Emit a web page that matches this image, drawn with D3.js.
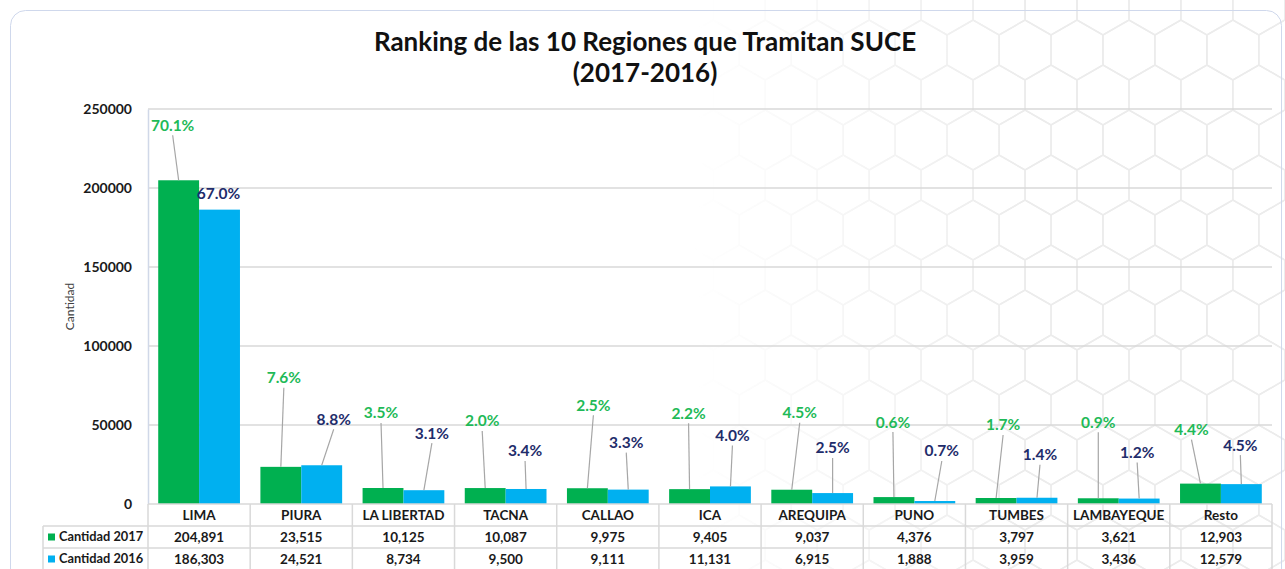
<!DOCTYPE html>
<html>
<head>
<meta charset="utf-8">
<script src="https://cdn.jsdelivr.net/npm/d3@7"></script>
<style>
  body { margin: 0; background: #fff; }
  svg { display: block; font-family: Lato, "Open Sans", sans-serif; }
</style>
</head>
<body>
<div id="chart"></div>
<script>
// Data
const regions = ['LIMA', 'PIURA', 'LA LIBERTAD', 'TACNA', 'CALLAO', 'ICA', 'AREQUIPA', 'PUNO', 'TUMBES', 'LAMBAYEQUE', 'Resto'];
const cantidad2017 = [204891, 23515, 10125, 10087, 9975, 9405, 9037, 4376, 3797, 3621, 12903];
const cantidad2016 = [186303, 24521, 8734, 9500, 9111, 11131, 6915, 1888, 3959, 3436, 12579];
const pct2017 = [70.1, 7.6, 3.5, 2.0, 2.5, 2.2, 4.5, 0.6, 1.7, 0.9, 4.4];
const pct2016 = [67.0, 8.8, 3.1, 3.4, 3.3, 4.0, 2.5, 0.7, 1.4, 1.2, 4.5];
const yTicks = [0, 50000, 100000, 150000, 200000, 250000];
const seriesNames = ['Cantidad 2017', 'Cantidad 2016'];

// Label placement (px offsets from bar top centre), like manual Excel labels
const offsets2017 = [[-6, -55], [3, -89], [-2, -75], [-3, -67], [6, -83], [-1, -76], [8, -77], [-1, -75], [7, -73], [0, -76], [-9, -54]];
const offsets2016 = [[-1, -16], [12, -46], [8, -57], [-1, -38], [-2, -47], [2, -51], [0, -45], [7, -50], [3, -43], [-2, -46], [-1, -39]];

const width = 1285, height = 569;
const plot = { left: 148, right: 1272, top: 109, bottom: 504 };
const rowH = 22;
const colors = { g: '#00b050', b: '#00b0f0', gText: '#1fba58', bText: '#1f2d6b', grid: '#d9d9d9' };

const svg = d3.select('#chart').append('svg')
  .attr('width', width)
  .attr('height', height);

// Hexagon backdrop, fading to the left
const defs = svg.append('defs');
const grad = defs.append('linearGradient').attr('id', 'fade').attr('x1', 0).attr('x2', 1).attr('y1', 0).attr('y2', 0);
grad.append('stop').attr('offset', '0.54').attr('stop-color', '#000');
grad.append('stop').attr('offset', '0.8').attr('stop-color', '#fff');
defs.append('mask').attr('id', 'hexMask')
  .append('rect').attr('width', width).attr('height', height).attr('fill', 'url(#fade)');

const r = 30, hw = r * Math.sqrt(3);
const hexPath = d3.range(6).map(i => {
  const a = Math.PI / 3 * i + Math.PI / 6;
  return [r * Math.cos(a), r * Math.sin(a)];
});
const hexes = [];
for (let row = -1; row * 1.5 * r < height + r; row++) {
  for (let col = -1; col * hw < width + hw; col++) {
    hexes.push([1077 + (col - 20) * hw + (row % 2 ? hw / 2 : 0), 50 + row * 1.5 * r]);
  }
}
svg.append('g').attr('mask', 'url(#hexMask)')
  .selectAll('path').data(hexes).join('path')
  .attr('d', d => 'M' + hexPath.map(p => [p[0] + d[0], p[1] + d[1]].join(',')).join('L') + 'Z')
  .attr('fill', 'none')
  .attr('stroke', '#ececec')
  .attr('stroke-width', 1.5);

// Card outline
svg.append('rect')
  .attr('x', 10.5).attr('y', 10.5)
  .attr('width', 1271).attr('height', 600)
  .attr('rx', 15)
  .attr('fill', 'none')
  .attr('stroke', '#cfd8ec')
  .attr('stroke-width', 1);

// Title
const title = svg.append('text')
  .attr('text-anchor', 'middle')
  .attr('font-weight', 'bold')
  .attr('font-size', 26)
  .attr('fill', '#111');
title.append('tspan').attr('x', 645).attr('y', 51).text('Ranking de las 10 Regiones que Tramitan SUCE');
title.append('tspan').attr('x', 645).attr('y', 82).text('(2017-2016)');

// Scales
const x = d3.scaleBand()
  .domain(regions)
  .range([plot.left, plot.right])
  .paddingInner(0.2)
  .paddingOuter(0.1);
const step = x.step();
const bw = x.bandwidth() / 2;

const y = d3.scaleLinear()
  .domain([0, 250000])
  .range([plot.bottom, plot.top]);

// Grid
svg.append('g')
  .selectAll('line').data(yTicks.slice(1)).join('line')
  .attr('x1', plot.left).attr('x2', plot.right)
  .attr('y1', d => y(d)).attr('y2', d => y(d))
  .attr('stroke', colors.grid)
  .attr('stroke-width', 1.5);

// Y axis
const yAxis = svg.append('g')
  .attr('transform', `translate(${plot.left},0)`)
  .call(d3.axisLeft(y).tickValues(yTicks).tickSize(0).tickPadding(16).tickFormat(d3.format('d')));
yAxis.select('.domain').attr('stroke', '#d0d8e8').attr('stroke-width', 1.5);
yAxis.selectAll('text')
  .attr('font-size', 14)
  .attr('font-weight', 'bold')
  .attr('fill', '#1a1a1a')
  .attr('font-family', 'Lato, sans-serif');

svg.append('text')
  .attr('transform', `translate(74,${(plot.top + plot.bottom) / 2}) rotate(-90)`)
  .attr('text-anchor', 'middle')
  .attr('font-size', 12)
  .attr('fill', '#404040')
  .text('Cantidad');

// Bars
const series = [
  { values: cantidad2017, pct: pct2017, offs: offsets2017, dx: 0, fill: colors.g, text: colors.gText },
  { values: cantidad2016, pct: pct2016, offs: offsets2016, dx: bw, fill: colors.b, text: colors.bText }
];

series.forEach(s => {
  const g = svg.append('g');
  g.selectAll('rect').data(regions).join('rect')
    .attr('x', d => x(d) + s.dx)
    .attr('y', (d, i) => y(s.values[i]))
    .attr('width', bw)
    .attr('height', (d, i) => y(0) - y(s.values[i]))
    .attr('fill', s.fill);
});

// Labels drawn after all bars so they sit on top
series.forEach(s => {
  const lbl = svg.append('g');
  regions.forEach((d, i) => {
    const cx = x(d) + s.dx + bw / 2;
    const top = y(s.values[i]);
    const lx = cx + s.offs[i][0];
    const ly = top + s.offs[i][1];
    if (s.offs[i][1] < -25) {
      lbl.append('line')
        .attr('x1', lx).attr('y1', ly + 10)
        .attr('x2', cx).attr('y2', top)
        .attr('stroke', '#a6a6a6')
        .attr('stroke-width', 1.2);
    }
    lbl.append('text')
      .attr('x', lx).attr('y', ly)
      .attr('dy', '0.35em')
      .attr('text-anchor', 'middle')
      .attr('font-size', 15.5)
      .attr('font-weight', 'bold')
      .attr('fill', s.text)
      .text(s.pct[i].toFixed(1) + '%');
  });
});

// Data table
const table = svg.append('g')
  .attr('stroke', colors.grid)
  .attr('stroke-width', 1.5);
const tableBottom = plot.bottom + rowH * 3 + 4;
const colEdges = regions.map(d => x(d) - step * 0.1).concat([plot.right]);
table.selectAll('line.v').data(colEdges).join('line')
  .attr('x1', d => d).attr('x2', d => d)
  .attr('y1', plot.bottom).attr('y2', tableBottom);
table.append('line')
  .attr('x1', 43).attr('x2', 43)
  .attr('y1', plot.bottom + rowH).attr('y2', tableBottom);
[1, 2].forEach(k => {
  table.append('line')
    .attr('x1', 43).attr('x2', plot.right)
    .attr('y1', plot.bottom + rowH * k).attr('y2', plot.bottom + rowH * k);
});
table.append('line')
  .attr('x1', plot.left).attr('x2', plot.right)
  .attr('y1', plot.bottom).attr('y2', plot.bottom);

const tText = svg.append('g')
  .attr('font-size', 13.5)
  .attr('font-weight', 'bold')
  .attr('fill', '#1a1a1a')
  .attr('text-anchor', 'middle');

tText.selectAll('text.cat').data(regions).join('text')
  .attr('x', d => x(d) + x.bandwidth() / 2)
  .attr('y', plot.bottom + rowH / 2)
  .attr('dy', '0.35em')
  .text(d => d);

const fmt = d3.format(',');
[cantidad2017, cantidad2016].forEach((vals, k) => {
  const ry = plot.bottom + rowH * (k + 1) + rowH / 2;
  tText.selectAll(null).data(regions).join('text')
    .attr('x', d => x(d) + x.bandwidth() / 2)
    .attr('y', ry)
    .attr('dy', '0.35em')
    .text((d, i) => fmt(vals[i]));
  svg.append('rect')
    .attr('x', 48).attr('y', ry - 3.5)
    .attr('width', 7).attr('height', 7)
    .attr('fill', k === 0 ? colors.g : colors.b);
  svg.append('text')
    .attr('x', 59).attr('y', ry)
    .attr('dy', '0.35em')
    .attr('font-size', 12.8)
    .attr('font-weight', 'bold')
    .attr('fill', '#1a1a1a')
    .text(seriesNames[k]);
});
</script>
</body>
</html>
